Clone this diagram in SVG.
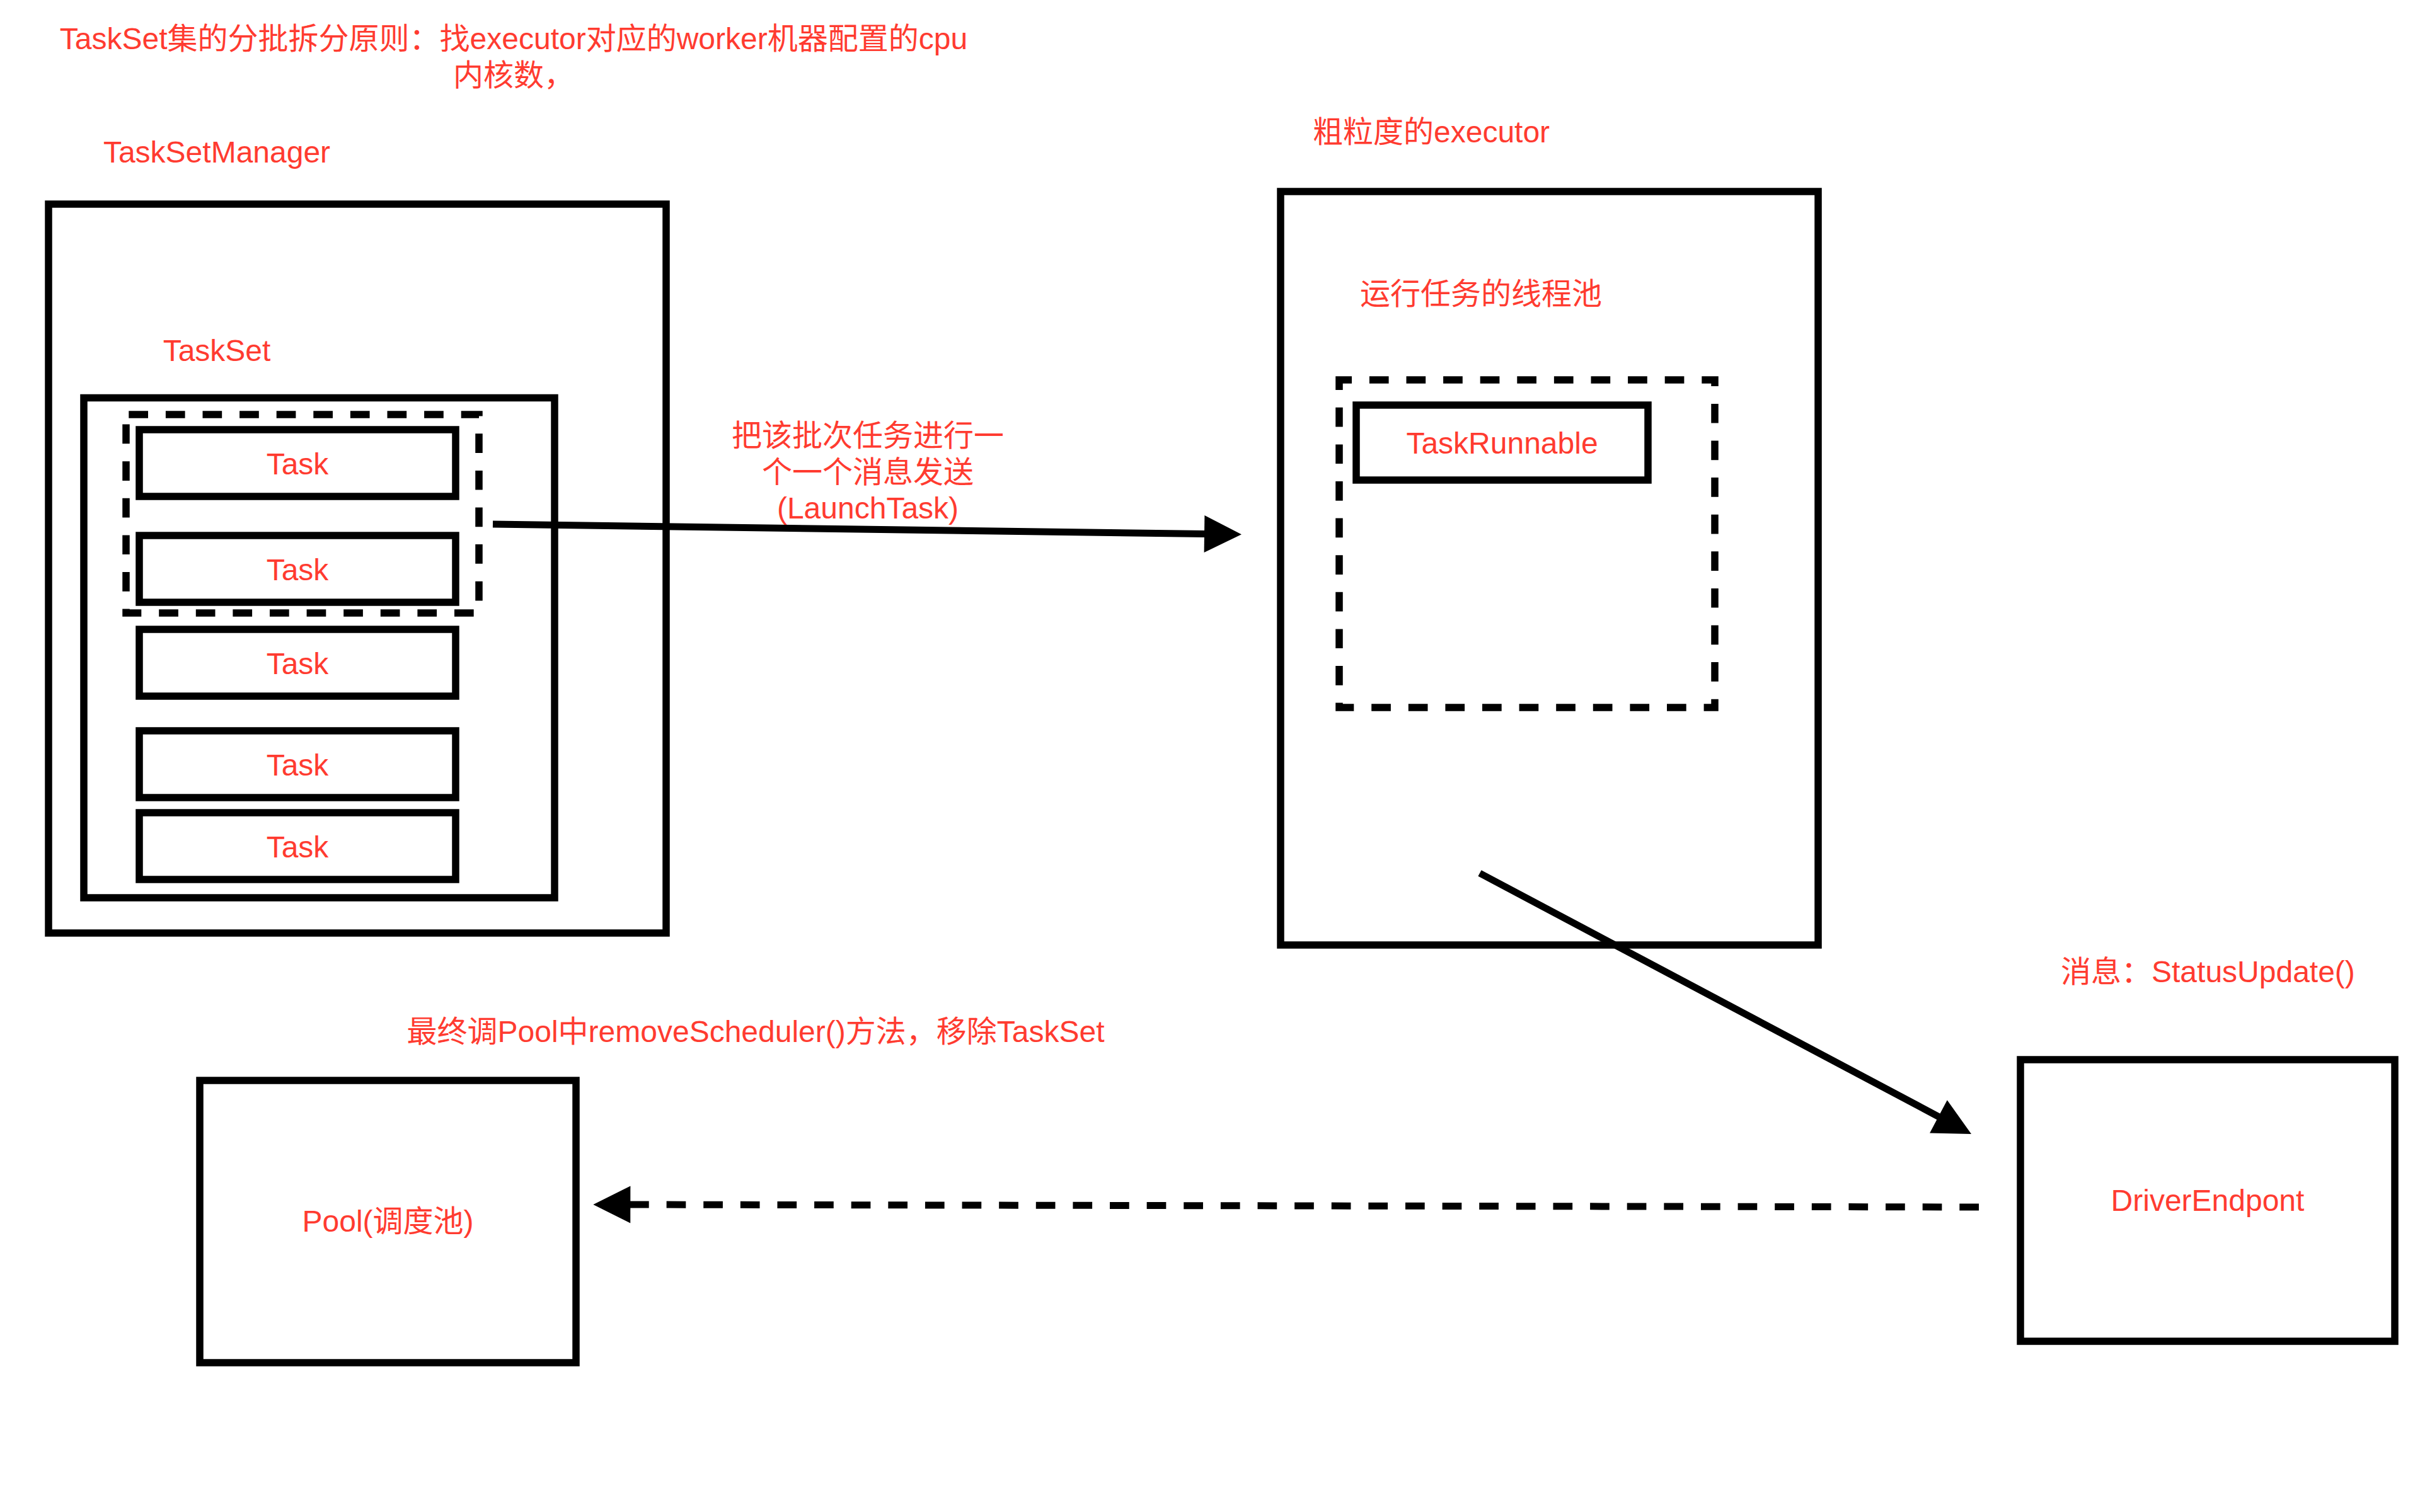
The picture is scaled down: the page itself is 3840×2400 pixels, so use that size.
<svg xmlns="http://www.w3.org/2000/svg" width="3840" height="2400" viewBox="0 0 3840 2400">
<style>
.box{fill:none;stroke:#000;stroke-width:11.5}
.dash{fill:none;stroke:#000;stroke-width:11.5;stroke-dasharray:30.7 27.9}
.t{font-family:"Liberation Sans","Noto Sans CJK SC",sans-serif;font-size:48px;fill:#ff3b30}
.m{text-anchor:middle}
.line{fill:none;stroke:#000;stroke-width:11}
</style>
<defs>
<marker id="ah" markerUnits="userSpaceOnUse" markerWidth="60" markerHeight="60" viewBox="0 0 60 60" refX="1" refY="30" orient="auto" overflow="visible">
<path d="M0,0.5 L59,30 L0,59.5 Z" fill="#000"/>
</marker>
</defs>
<rect width="3840" height="2400" fill="#fff"/>

<g id="title">
<text class="t m" x="815" y="78">TaskSet集的分批拆分原则：找executor对应的worker机器配置的cpu</text>
<text class="t m" x="815" y="135.6">内核数，</text>
</g>

<g id="taskSetManager">
<rect class="box" x="77" y="324" width="980" height="1157"/>
<text class="t m" x="344" y="258">TaskSetManager</text>
</g>

<g id="taskSet">
<rect class="box" x="133" y="631.5" width="747" height="793.5"/>
<text class="t m" x="344" y="573">TaskSet</text>
</g>

<g id="batch">
<rect class="dash" x="200" y="658" width="560" height="315" stroke-dashoffset="54.3"/>
</g>

<g id="task1"><rect class="box" x="221" y="682" width="502" height="106"/><text class="t m" x="472" y="752.5">Task</text></g>
<g id="task2"><rect class="box" x="221" y="850" width="502" height="106"/><text class="t m" x="472" y="920.5">Task</text></g>
<g id="task3"><rect class="box" x="221" y="999" width="502" height="106"/><text class="t m" x="472" y="1069.5">Task</text></g>
<g id="task4"><rect class="box" x="221" y="1160" width="502" height="106"/><text class="t m" x="472" y="1230.5">Task</text></g>
<g id="task5"><rect class="box" x="221" y="1290" width="502" height="106"/><text class="t m" x="472" y="1360.5">Task</text></g>

<g id="executor">
<rect class="box" x="2032" y="304" width="853" height="1196"/>
<text class="t" x="2083" y="226">粗粒度的executor</text>
</g>

<g id="threadPool">
<rect class="dash" x="2125" y="603" width="596" height="520" stroke-dashoffset="10.7"/>
<text class="t" x="2158" y="483">运行任务的线程池</text>
</g>

<g id="taskRunnable">
<rect class="box" x="2152" y="643" width="463" height="119"/>
<text class="t m" x="2383.5" y="720">TaskRunnable</text>
</g>

<g id="driverEndpoint">
<rect class="box" x="3206" y="1682" width="594" height="447"/>
<text class="t m" x="3503" y="1922">DriverEndpont</text>
</g>

<g id="pool">
<rect class="box" x="317" y="1715" width="597" height="448"/>
<text class="t m" x="615.5" y="1955">Pool(调度池)</text>
</g>

<g id="connectors">
<path class="line" d="M782,832 L1912,847.5" marker-end="url(#ah)"/>
<path class="line" d="M2348,1386 L3076.8,1772.8" marker-end="url(#ah)"/>
<path class="line" d="M3140,1916 L999.3,1912" stroke-dasharray="30.7 27.92" marker-end="url(#ah)"/>
</g>

<g id="connectorLabels">
<text class="t m" x="1377" y="708">把该批次任务进行一</text>
<text class="t m" x="1377" y="765.6">个一个消息发送</text>
<text class="t m" x="1377" y="823">(LaunchTask)</text>
<text class="t" x="3270" y="1559">消息：StatusUpdate()</text>
<text class="t m" x="1199" y="1654">最终调Pool中removeScheduler()方法，移除TaskSet</text>
</g>
</svg>
